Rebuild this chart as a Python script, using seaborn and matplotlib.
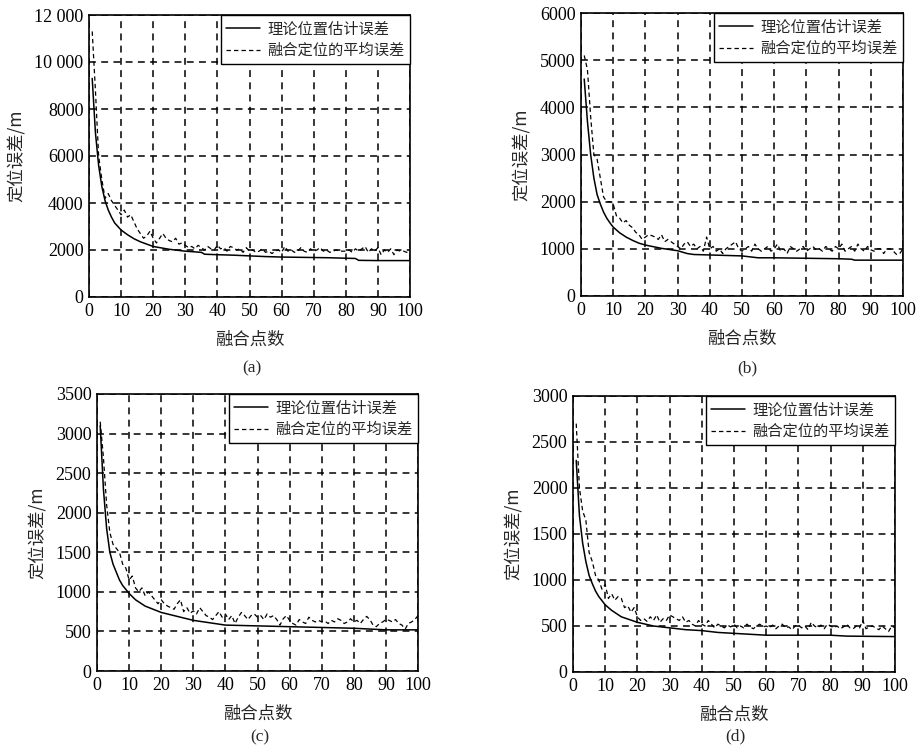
import numpy as np
import pandas as pd
import matplotlib
matplotlib.use("Agg")
import matplotlib.pyplot as plt
from matplotlib.ticker import FuncFormatter
import seaborn as sns

# ---------------- data ----------------
labels = ["理论位置估计误差", "融合定位的平均误差"]
panel_tags = ["(a)", "(b)", "(c)", "(d)"]
x_ticks = [0, 10, 20, 30, 40, 50, 60, 70, 80, 90, 100]
fused_x = list(range(1, 101))

# (a)
theory_a_x = [1, 2, 3, 4, 5, 6, 7, 8, 9, 10, 12, 14, 16, 18, 20, 25, 30, 35, 36, 40, 45, 50, 55, 60, 65, 70, 75, 80, 83, 84, 90, 95, 100]
theory_a_y = [9300, 7000, 5600, 4700, 4100, 3700, 3400, 3150, 3000, 2850, 2650, 2480, 2350, 2250, 2150, 2030, 1950, 1900, 1820, 1800, 1780, 1750, 1720, 1700, 1690, 1680, 1670, 1650, 1640, 1560, 1550, 1550, 1550]
fused_a = [11300, 8800, 6000, 5000, 4200, 4400, 4100, 3900, 3700, 3500,
           3700, 3400, 3500, 3200, 2900, 2700, 2500, 2600, 2800, 2500,
           2300, 2500, 2700, 2500, 2400, 2350, 2500, 2250, 2300, 2200,
           2100, 2150, 2050, 2200, 2100, 2000, 2150, 2050, 2000, 2200,
           2050, 2100, 1950, 2150, 2100, 2000, 2050, 1900, 2100, 1950,
           2000, 1900, 1950, 2050, 1900, 1950, 1850, 1950, 2000, 1900,
           2150, 1950, 2000, 1900, 1950, 2100, 1950, 1900, 2050, 1950,
           2000, 2100, 1950, 2000, 1900, 1950, 2000, 1950, 1950, 1950,
           2000, 1900, 2050, 1950, 2050, 2150, 1900, 2050, 1950, 2100,
           1800, 2000, 1900, 2050, 1800, 2000, 1950, 1950, 1900, 1950]
yticks_a = [0, 2000, 4000, 6000, 8000, 10000, 12000]

# (b)
theory_b_x = [1, 2, 3, 4, 5, 6, 7, 8, 9, 10, 12, 14, 16, 18, 20, 25, 30, 33, 35, 40, 45, 50, 55, 60, 70, 80, 84, 85, 100]
theory_b_y = [4600, 3700, 3000, 2500, 2150, 1950, 1780, 1650, 1550, 1460, 1340, 1250, 1180, 1120, 1080, 1010, 960, 900, 880, 870, 860, 850, 810, 810, 800, 790, 780, 760, 760]
fused_b = [5100, 4800, 3800, 3000, 2900, 2500, 2100, 2000, 2000, 1950,
           1700, 1650, 1550, 1600, 1500, 1450, 1350, 1300, 1200, 1250,
           1300, 1280, 1250, 1200, 1300, 1150, 1200, 1150, 1100, 1050,
           1000, 1100, 1150, 1050, 1100, 1000, 1050, 950, 1250, 1000,
           1050, 950, 1000, 900, 1000, 1050, 1100, 1150, 1000, 950,
           1000, 1050, 950, 1100, 1000, 950, 1000, 1050, 950, 1000,
           1100, 950, 1000, 900, 1050, 1000, 950, 1000, 1050, 950,
           1000, 1050, 980, 1000, 950, 1050, 1000, 950, 1050, 1000,
           1100, 950, 1000, 1050, 950, 1100, 1000, 950, 1050, 980,
           950, 1000, 1000, 900, 1000, 1000, 950, 880, 900, 1000]
yticks_b = [0, 1000, 2000, 3000, 4000, 5000, 6000]

# (c)
theory_c_x = [1, 2, 3, 4, 5, 6, 7, 8, 10, 12, 15, 20, 25, 30, 35, 40, 50, 60, 70, 80, 90, 100]
theory_c_y = [3100, 2300, 1800, 1500, 1350, 1250, 1150, 1080, 980, 900, 820, 740, 690, 640, 610, 580, 570, 560, 550, 540, 520, 520]
fused_c = [3150, 2700, 2100, 1750, 1600, 1550, 1500, 1350, 1300, 1150,
           1200, 1050, 1000, 1050, 950, 1000, 950, 900, 850, 900,
           850, 820, 800, 780, 850, 900, 750, 800, 730, 760,
           720, 800, 750, 700, 680, 650, 700, 750, 680, 720,
           650, 700, 600, 680, 740, 700, 650, 700, 720, 680,
           700, 650, 720, 680, 700, 650, 580, 660, 700, 640,
           600, 580, 650, 620, 600, 680, 640, 620, 640, 620,
           630, 600, 640, 620, 660, 640, 600, 620, 660, 620,
           640, 600, 650, 690, 650, 580, 560, 600, 620, 650,
           640, 620, 650, 600, 580, 530, 600, 620, 650, 700]
yticks_c = [0, 500, 1000, 1500, 2000, 2500, 3000, 3500]

# (d)
theory_d_x = [1, 2, 3, 4, 5, 6, 7, 8, 10, 12, 15, 20, 25, 30, 35, 40, 45, 50, 55, 60, 70, 80, 85, 100]
theory_d_y = [2300, 1700, 1400, 1200, 1050, 960, 880, 820, 730, 670, 600, 540, 500, 480, 460, 450, 430, 420, 410, 400, 400, 400, 390, 385]
fused_d = [2700, 2000, 1750, 1650, 1300, 1200, 1050, 1000, 900, 950,
           800, 850, 780, 820, 800, 700, 720, 650, 700, 600,
           560, 580, 550, 600, 560, 620, 540, 580, 560, 620,
           600, 580, 560, 600, 540, 560, 520, 500, 560, 520,
           500, 560, 520, 480, 520, 500, 480, 510, 490, 520,
           480, 500, 480, 520, 490, 470, 500, 520, 490, 500,
           480, 510, 470, 500, 520, 480, 490, 460, 500, 510,
           480, 500, 460, 540, 500, 480, 510, 470, 520, 500,
           480, 500, 470, 490, 520, 480, 470, 500, 480, 560,
           470, 490, 500, 480, 460, 500, 470, 440, 500, 480]
yticks_d = [0, 500, 1000, 1500, 2000, 2500, 3000]

panels = [
    (theory_a_x, theory_a_y, fused_a, yticks_a),
    (theory_b_x, theory_b_y, fused_b, yticks_b),
    (theory_c_x, theory_c_y, fused_c, yticks_c),
    (theory_d_x, theory_d_y, fused_d, yticks_d),
]

# ---------------- style ----------------
sns.set_style("white")
plt.rcParams['font.family'] = ['Liberation Serif', 'Noto Sans CJK SC', 'DejaVu Sans']
cjk = ['Noto Sans CJK SC', 'DejaVu Sans']

W, H = 918, 748
fig = plt.figure(figsize=(W / 100, H / 100), dpi=100)

# axes boxes in pixels: left, top, right, bottom
boxes = [(89, 15, 410, 297), (581, 13, 903, 296), (97, 394, 418, 671), (573, 396, 895, 672)]
captions_xy = [(252, 368), (747, 368), (260, 737), (735, 736)]


def fmt(v, pos):
    v = int(round(v))
    if v >= 10000:
        return f"{v // 1000} {v % 1000:03d}"
    return str(v)


for i, (tx, ty, fy, yt) in enumerate(panels):
    l, t, r, b = boxes[i]
    ax = fig.add_axes([l / W, 1 - b / H, (r - l) / W, (b - t) / H])
    df_t = pd.DataFrame({"x": tx, "y": ty})
    df_f = pd.DataFrame({"x": fused_x, "y": fy})
    sns.lineplot(data=df_t, x="x", y="y", ax=ax, color="black", lw=1.1, label=labels[0])
    sns.lineplot(data=df_f, x="x", y="y", ax=ax, color="black", lw=0.9,
                 linestyle=(0, (3.5, 2.5)), label=labels[1])
    ax.set_xlim(0, 100)
    ax.set_ylim(yt[0], yt[-1])
    ax.set_xticks(x_ticks)
    ax.set_yticks(yt)
    ax.yaxis.set_major_formatter(FuncFormatter(fmt))
    ax.tick_params(axis="both", labelsize=13, length=0, pad=4, colors="black")
    ax.grid(True, color="black", linestyle=(0, (4.5, 3.5)), lw=1.1)
    for s in ax.spines.values():
        s.set_color("black")
        s.set_linewidth(1.2)
    ax.set_xlabel("融合点数", fontsize=12.5, family=cjk, labelpad=8)
    ax.set_ylabel("定位误差/m", fontsize=12.5, family=cjk, labelpad=7)
    leg = ax.legend(loc="upper right", borderaxespad=0, fancybox=False,
                    framealpha=1, edgecolor="black", handlelength=2.2,
                    prop={"family": cjk, "size": 11}, borderpad=0.35,
                    labelspacing=0.3, handletextpad=0.5)
    leg.get_frame().set_linewidth(1.0)
    cx, cy = captions_xy[i]
    fig.text(cx / W, 1 - cy / H, panel_tags[i], ha="center", va="center", fontsize=12.5)

fig.savefig("out.png", dpi=100)
